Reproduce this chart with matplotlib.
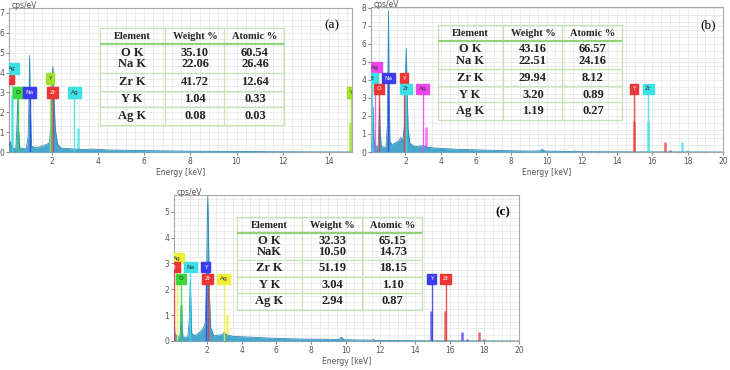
import matplotlib
matplotlib.use('Agg')
import matplotlib.pyplot as plt
from matplotlib.ticker import MultipleLocator

W, H = 730, 370

# ---- spectra (energy keV, cps/eV) ----
spec_a_e = [0.15, 0.2, 0.25, 0.3, 0.45, 0.5, 0.53, 0.56, 0.62, 0.9, 0.98, 1.02, 1.04, 1.07, 1.12, 1.3,
            1.6, 1.8, 1.9, 1.97, 2.02, 2.05, 2.09, 2.15, 2.25, 2.4, 3.0, 3.5, 3.7, 4.5, 6, 8, 10, 12, 15]
spec_a_y = [0.3, 0.55, 0.3, 0.15, 0.2, 1.5, 2.8, 1.2, 0.2, 0.15, 0.8, 3.0, 4.85, 2.5, 0.3, 0.2,
            0.3, 0.4, 0.45, 1.5, 3.9, 4.3, 3.0, 1.2, 0.4, 0.2, 0.15, 0.12, 0.15, 0.1, 0.07, 0.04, 0.03, 0.01, 0.0]

spec_b_e = [0.05, 0.12, 0.17, 0.22, 0.3, 0.45, 0.5, 0.53, 0.56, 0.63, 0.9, 0.98, 1.02, 1.04, 1.07, 1.12,
            1.25, 1.4, 1.6, 1.75, 1.85, 1.95, 2.01, 2.05, 2.09, 2.15, 2.25, 2.5, 3.0, 3.3, 4, 5, 7, 9,
            9.6, 9.75, 9.9, 11.5, 11.6, 11.7, 14, 20]
spec_b_y = [0.2, 0.5, 2.5, 0.6, 0.3, 0.3, 1.6, 2.9, 1.3, 0.3, 0.25, 1.5, 5.5, 7.8, 4.0, 0.6,
            0.4, 0.5, 0.6, 0.8, 0.6, 1.5, 4.5, 5.75, 3.8, 1.3, 0.5, 0.3, 0.35, 0.25, 0.2, 0.15, 0.09, 0.05,
            0.06, 0.15, 0.05, 0.03, 0.06, 0.02, 0.01, 0.0]

spec_c_e = [0.1, 0.15, 0.3, 0.45, 0.5, 0.53, 0.56, 0.62, 0.9, 0.98, 1.02, 1.04, 1.07, 1.12, 1.3, 1.6,
            1.8, 1.9, 1.97, 2.02, 2.05, 2.08, 2.14, 2.22, 2.4, 2.9, 3.0, 3.1, 3.5, 4.5, 6, 8,
            9.6, 9.75, 9.9, 11.5, 11.6, 11.7, 14, 20]
spec_c_y = [0.9, 0.3, 0.15, 0.2, 0.8, 1.4, 0.6, 0.15, 0.15, 0.8, 1.9, 2.3, 1.6, 0.3, 0.2, 0.35,
            0.5, 0.7, 2.0, 4.8, 5.6, 4.5, 1.8, 0.5, 0.2, 0.25, 0.35, 0.25, 0.18, 0.15, 0.1, 0.07,
            0.06, 0.15, 0.05, 0.03, 0.06, 0.02, 0.01, 0.0]

# ---- element markers: (label, energy, box height, colour) ----
red, green, blue, cyan = '#ee3535', '#3ad83a', '#3a3aee', '#3ee0e8'
lime, magenta, yellow = '#9ee02a', '#ee45ee', '#f0f03a'

mark_a = [('Zr', 0.12, 3.7, red), ('Ag', 0.28, 4.2, cyan), ('O', 0.52, 3.0, green),
          ('Na', 1.04, 3.0, blue), ('Y', 1.92, 3.7, lime), ('Zr', 2.04, 3.0, red),
          ('Ag', 2.98, 3.0, cyan), ('Y', 14.96, 3.0, lime)]
lines_a = [(3.15, 1.2, cyan), (2.1, 1.3, red), (14.93, 1.5, lime), (0.26, 2.85, cyan)]

mark_b = [('Ag', 0.28, 4.7, magenta), ('Zr', 0.12, 4.1, cyan), ('O', 0.52, 3.5, red),
          ('Na', 1.04, 4.1, blue), ('Y', 1.92, 4.1, red), ('Zr', 2.04, 3.5, cyan),
          ('Ag', 2.98, 3.5, magenta), ('Y', 14.96, 3.5, red), ('Zr', 15.77, 3.5, cyan)]
lines_b = [(3.15, 1.4, magenta), (3.35, 0.3, magenta), (14.93, 1.7, red), (15.74, 1.7, cyan),
           (16.74, 0.55, red), (17.0, 0.1, red), (17.67, 0.55, cyan), (17.97, 0.1, cyan)]

mark_c = [('Ag', 0.28, 3.2, yellow), ('Zr', 0.12, 2.85, red), ('O', 0.52, 2.4, green),
          ('Na', 1.04, 2.85, cyan), ('Y', 1.92, 2.85, blue), ('Zr', 2.04, 2.4, red),
          ('Ag', 2.98, 2.4, yellow), ('Y', 14.96, 2.4, blue), ('Zr', 15.77, 2.4, red)]
lines_c = [(3.15, 1.0, yellow), (2.08, 1.0, red), (0.53, 1.4, green), (14.93, 1.15, blue),
           (15.74, 1.15, red), (16.74, 0.35, blue), (17.0, 0.08, blue), (17.67, 0.35, red), (17.97, 0.08, red)]

# ---- tables ----
elements = ['O K', 'Na K', 'Zr K', 'Y K', 'Ag K']
elements_c = ['O K', 'NaK', 'Zr K', 'Y K', 'Ag K']
weight_a = ['35.10', '22.06', '41.72', '1.04', '0.08']
atomic_a = ['60.54', '26.46', '12.64', '0.33', '0.03']
weight_b = ['43.16', '22.51', '29.94', '3.20', '1.19']
atomic_b = ['66.57', '24.16', '8.12', '0.89', '0.27']
weight_c = ['32.33', '10.50', '51.19', '3.04', '2.94']
atomic_c = ['65.15', '14.73', '18.15', '1.10', '0.87']


def px_rect(l, t, r, b):
    return [l / W, 1 - b / H, (r - l) / W, (b - t) / H]


fig = plt.figure(figsize=(W / 100, H / 100), dpi=100)
fig.patch.set_facecolor('white')
serif = ['Liberation Serif', 'DejaVu Serif']


def spectrum(rect, xlim, ylim, ymaj, xgrid, ygrid, e, y, marks, extra, tag, tagpos, tagbold=False):
    ax = fig.add_axes(px_rect(*rect))
    ax.set_xlim(*xlim)
    ax.set_ylim(*ylim)
    ax.xaxis.set_major_locator(MultipleLocator(2))
    ax.yaxis.set_major_locator(MultipleLocator(ymaj))
    ax.xaxis.set_minor_locator(MultipleLocator(xgrid))
    ax.yaxis.set_minor_locator(MultipleLocator(ygrid))
    ax.grid(which='both', color='#e2e6e2', lw=0.5)
    ax.set_axisbelow(True)
    for s in ax.spines.values():
        s.set_color('#a8a8a8')
        s.set_linewidth(0.8)
    ax.tick_params(which='major', labelsize=5.5, colors='#555555', length=2, width=0.5, pad=1.5)
    ax.tick_params(which='minor', length=1, width=0.4, colors='#999999')
    ax.set_xlabel('Energy [keV]', fontsize=5.5, color='#555555', labelpad=1.5)
    # cps/eV sits just above the frame, a little overlapping it
    fig.text((rect[0] + 3) / W, 1 - (rect[1] - 2.5) / H, 'cps/eV', fontsize=5.5, color='#555555',
             ha='left', va='center')

    for (xe, h, c) in extra:
        ax.vlines(xe, 0, h, color=c, lw=1.8, alpha=0.75, zorder=2)
    ax.fill_between(e, y, color='#47a6cc', lw=0, zorder=3)
    ax.plot(e, y, color='#2f89b8', lw=0.6, zorder=3)
    for (lab, xe, h, c) in marks:
        ax.vlines(xe, 0, h, color=c, lw=1.0, alpha=0.85, zorder=4)
        tc = 'white' if c in (red, blue) else '#333333'
        ax.text(xe, h, lab, fontsize=4.2, ha='center', va='center', color=tc, zorder=5,
                bbox=dict(boxstyle='square,pad=0.45', fc=c, ec=c), clip_on=True)
    fig.text(tagpos[0] / W, 1 - tagpos[1] / H, tag, fontsize=9.5, family=serif,
             fontweight='bold' if tagbold else 'normal', ha='center', va='center')
    return ax


def table(rect, names, weight, atomic):
    l, t, r, b = rect
    tx = fig.add_axes(px_rect(l, t, r, b))
    tx.set_xlim(0, 1)
    tx.set_ylim(1, 0)
    tx.axis('off')
    lc = '#c5e4b5'
    tx.plot([0, 1, 1, 0, 0], [0, 0, 1, 1, 0], color=lc, lw=0.9, clip_on=False)
    for xv in (0.353, 0.674):
        tx.plot([xv, xv], [0, 1], color=lc, lw=0.9)
    tx.plot([0, 1], [0.168, 0.168], color='#93d27d', lw=1.6)
    for yv in (0.46, 0.646, 0.814):
        tx.plot([0, 1], [yv, yv], color=lc, lw=0.9)
    cols = (0.174, 0.516, 0.842)
    for cx, head in zip(cols, ['Element', 'Weight %', 'Atomic %']):
        tx.text(cx, 0.09, head, fontsize=7.5, fontweight='bold', family=serif,
                ha='center', va='center', color='#222222')
    rows_y = [0.255, 0.374, 0.553, 0.732, 0.904]
    for ry, n, w, a in zip(rows_y, names, weight, atomic):
        for cx, s in zip(cols, (n, w, a)):
            tx.text(cx, ry, s, fontsize=9, fontweight='bold', family=serif,
                    ha='center', va='center', color='#222222')


spectrum((9, 8, 352, 152), (0.15, 15.0), (0, 7.25), 1, 0.4, 1 / 3, spec_a_e, spec_a_y,
         mark_a, lines_a, '(a)', (332, 25))
spectrum((371, 7, 723, 152), (0.05, 20.0), (0, 8.05), 1, 0.5, 0.4, spec_b_e, spec_b_y,
         mark_b, lines_b, '(b)', (708, 25))
spectrum((174, 195, 519, 341), (0.1, 20.0), (0, 5.65), 1, 0.5, 0.25, spec_c_e, spec_c_y,
         mark_c, lines_c, '(c)', (503, 212), tagbold=True)

table((100, 28, 284, 125), elements, weight_a, atomic_a)
table((438, 25, 622, 120), elements, weight_b, atomic_b)
table((237, 217, 422, 310), elements_c, weight_c, atomic_c)

fig.savefig('out.png', dpi=100)
